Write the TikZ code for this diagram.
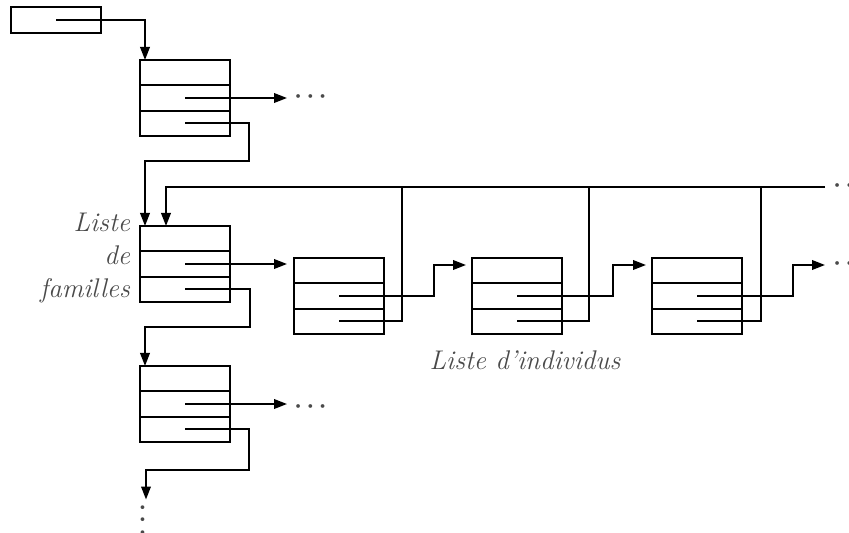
\documentclass[tikz,border=0pt]{standalone}
\usetikzlibrary{arrows.meta,positioning,calc}
\definecolor{labelgray}{HTML}{4A4A4A}

\begin{document}
\begin{tikzpicture}[x=0.5pt,y=-0.5pt,
 cell/.style={draw,line width=1pt,minimum width=45pt,minimum height=12.67pt,
   inner sep=0pt,outer sep=0pt},
 ptr/.style={-{Triangle[length=6.5pt,width=4.8pt]},line width=0.9pt},
 lnk/.style={line width=0.9pt},
 dots/.style={inner sep=0pt,anchor=base west,font=\fontsize{13}{15}\selectfont\boldmath,text=labelgray},
 lbl/.style={font=\fontsize{13.5}{16.5}\selectfont\itshape,text=labelgray}]
 \useasboundingbox (0,0) rectangle (849,533);
 % head pointer
 \node[cell,anchor=north west,minimum height=13pt] (tete) at (11,7) {};
 % family and individual records, three fields each
 \foreach \n/\x/\y in {f1/140/60,f2/140/226,f3/140/366,i1/294/258,i2/472/258,i3/652/258}{
   \node[cell,anchor=north west] (\n-a) at (\x,\y) {};
   \node[cell,below=0pt of \n-a] (\n-b) {};
   \node[cell,below=0pt of \n-b] (\n-c) {};
 }
 \node[dots] (f1-dots) at (294,103) {$\cdots$};
 \node[dots] (f3-dots) at (294,412) {$\cdots$};
 \node[dots] (top-dots) at (833,192) {$\cdots$};
 \node[dots] (i3-dots) at (833,270) {$\cdots$};
 \node[dots,anchor=center,rotate=90] (f3-vdots) at (143,520) {$\cdots$};
 \node[lbl,align=right,anchor=north east] (famlbl) at (137,206) {Liste\\de\\familles};
 \node[lbl] (indlbl) at (525,360) {Liste d'individus};
 \coordinate (j1) at (402,187);
 \coordinate (j2) at (589,187);
 \coordinate (j3) at (761,187);
 % connectors
 \draw[ptr] (tete.center) -| ($(f1-a.north west)+(5,0)$);
 \draw[ptr] (f1-b.center) -- ($(f1-b.center -| f1-dots.west)+(-7,0)$);
 \draw[ptr] (f1-c.center) -| ++(64,38) -| ($(f2-a.north west)+(5,0)$);
 \draw[ptr] ($(j3 -| top-dots.west)+(-8,0)$) -| ($(f2-a.north west)+(26,0)$);
 \draw[ptr] (f2-b.center) -- ($(i1-a.north west)+(-7,6)$);
 \draw[ptr] (f2-c.center) -| ++(65,38) -| ($(f3-a.north west)+(5,0)$);
 \draw[ptr] (f3-b.center) -- ($(f3-b.center -| f3-dots.west)+(-7,0)$);
 \draw[ptr] (f3-c.center) -| ++(64,41) -| ($(f3-vdots.east)+(3,-4)$);
 \draw[ptr] (i1-b.center) -- ++(95,0) |- ($(i2-a.north west)+(-6,7)$);
 \draw[ptr] (i2-b.center) -- ++(96,0) |- ($(i3-a.north west)+(-6,7)$);
 \draw[ptr] (i3-b.center) -- ++(96,0) |- ($(i3-a.north west |- i3-dots.base)+(173,-5)$);
 \draw[lnk] (i1-c.center) -| (j1);
 \draw[lnk] (i2-c.center) -| (j2);
 \draw[lnk] (i3-c.center) -| (j3);
\end{tikzpicture}
\end{document}
